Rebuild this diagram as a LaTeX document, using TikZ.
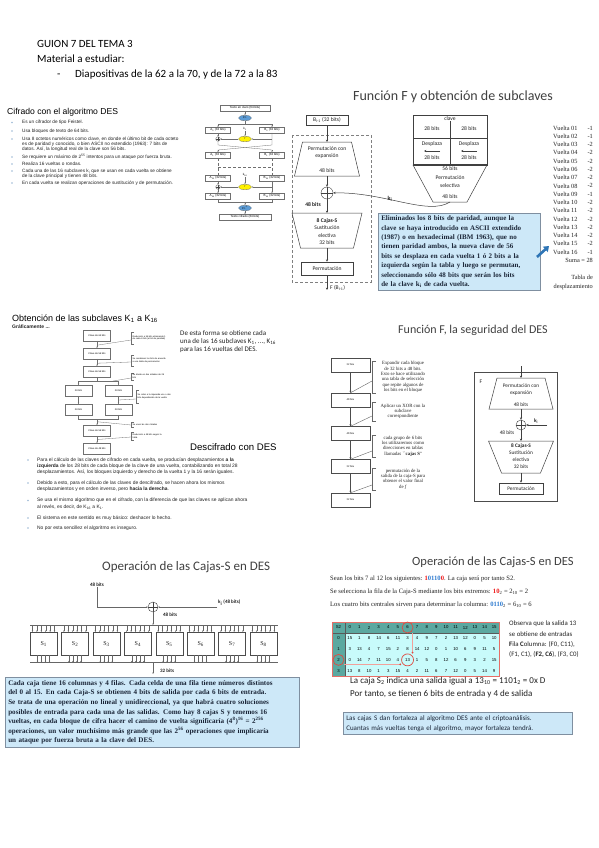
\documentclass[tikz,border=0pt]{standalone}
\usepackage{fontspec}
\usepackage{xcolor}
\usepackage{tikz}
\usetikzlibrary{arrows.meta,shapes.geometric,positioning,calc}
\newfontfamily\arialf{Liberation Sans}
\newfontfamily\calif{Carlito}
\newfontfamily\serf{Liberation Serif}
\definecolor{TitleGray}{HTML}{404040}
\definecolor{TextColor}{HTML}{222222}
\definecolor{NoteFill}{HTML}{CDE8F8}
\definecolor{NoteBorder}{HTML}{7F8FA0}
\definecolor{NoteText}{HTML}{1B2638}
\definecolor{BulletBlue}{HTML}{9DB9D6}
\definecolor{PIBlue}{HTML}{5B9BD5}
\definecolor{BoxGray}{HTML}{6F6F6F}
\definecolor{ArrowBlue}{HTML}{2E75B6}
\definecolor{HeadTeal}{HTML}{5BA8A0}
\definecolor{CellCyan}{HTML}{C8FBFB}
\definecolor{MarkRed}{HTML}{E04A40}
\definecolor{BitRed}{HTML}{F01818}
\definecolor{BitBlue}{HTML}{2E7BD0}
\definecolor{LinePink}{HTML}{F2A09A}
\newcommand{\fsz}[2]{\fontsize{#1}{#2}\selectfont}
\newcommand{\bdot}[2]{\fill[BulletBlue] (#1,#2) circle (0.8);}
% trapezoid: name, cx, ytop, ybot, half top width, half bottom width
\newcommand{\trap}[6]{%
	\draw[trapline] (#2-#5,#3) -- (#2+#5,#3) -- (#2+#6,#4) -- (#2-#6,#4) -- cycle;
	\coordinate (#1N) at (#2,#3);
	\coordinate (#1S) at (#2,#4);
}
% bracket note of the subkey chart: name, x, ytop, ybot, text
\newcommand{\snote}[5]{%
	\draw[sline] (#2+3,#3) -- (#2,#3) -- (#2,#4) -- (#2+3,#4);
	\node[sann, text width=34] (#1) at (#2+1,{(#3+#4)/2}) {#5};
}
% bracket note of the F chart: name, x, ytop, ybot, text
\newcommand{\tnote}[5]{%
	\draw[tline] (#2+4,#3) -- (#2,#3) -- (#2,#4) -- (#2+4,#4);
	\node[tann] (#1) at (#2+31,{(#3+#4)/2}) {#5};
}
\tikzset{
	ttl/.style={anchor=west, inner sep=0, text=TitleGray, font=\calif\fsz{13}{15}},
	attl/.style={anchor=west, inner sep=0, text=black, font=\arialf\fsz{8.6}{10}},
	btxt/.style={anchor=west, inner sep=0, text=TextColor, font=\arialf\fsz{4.7}{5.6}},
	note/.style={draw=NoteBorder, fill=NoteFill, line width=0.6pt, align=left, inner sep=3pt, text=NoteText},
	fbox/.style={draw=BoxGray, line width=0.3pt, inner sep=0.4pt, minimum height=5.5, font=\arialf\fsz{3}{3.4}},
	fell/.style={ellipse, draw=BoxGray, line width=0.3pt, inner sep=0, minimum width=13, minimum height=5.5, font=\arialf\fsz{2.6}{3}},
	fline/.style={draw=BoxGray, line width=0.3pt},
	farr/.style={fline, -{Stealth[length=1.5pt,width=1.3pt]}},
	xorc/.style={circle, draw=black!75, line width=0.4pt, inner sep=0, path picture={\draw[black!75, line width=0.4pt] (path picture bounding box.north) -- (path picture bounding box.south) (path picture bounding box.west) -- (path picture bounding box.east);}},
	gtxt/.style={inner sep=0, align=center, text=TextColor, font=\calif\fsz{5.6}{7.4}},
	gbox/.style={draw=black!75, line width=0.5pt, inner sep=1pt, text=TextColor, font=\calif\fsz{5.6}{6.5}},
	garr/.style={draw=black!75, line width=0.5pt, -{Stealth[length=2.4pt,width=2.2pt]}},
	trapline/.style={draw=black!75, line width=0.5pt, line join=miter},
	vtxt/.style={inner sep=0, text=TextColor, font=\serf\fsz{6.3}{7}},
	sbox/.style={draw=BoxGray, line width=0.3pt, minimum width=27, minimum height=10.5, inner sep=0, font=\arialf\fsz{2.4}{2.8}},
	sline/.style={draw=BoxGray, line width=0.3pt},
	sarr/.style={sline, -{Stealth[length=1.5pt,width=1.3pt]}},
	sann/.style={anchor=west, align=left, inner sep=0.5pt, font=\arialf\fsz{2.2}{2.6}},
	tbox/.style={draw=black!70, line width=0.4pt, minimum width=39, minimum height=14, inner sep=0, font=\serf\fsz{2.8}{3.2}},
	tline/.style={draw=black!60, line width=0.4pt},
	tarr/.style={draw=black!70, line width=0.6pt, -{Stealth[length=2pt,width=2pt]}},
	tann/.style={align=center, inner sep=0, text=TextColor, font=\serf\fsz{4.8}{5.3}},
	cbox/.style={draw=black!70, line width=0.4pt, inner sep=0, text=TextColor, font=\serf\fsz{6}{7}},
	cline/.style={draw=black!60, line width=0.4pt},
	carr/.style={cline, -{Stealth[length=1.6pt,width=1.4pt]}},
	ctxt/.style={inner sep=0, text=TextColor, font=\calif\bfseries\fsz{5}{6}},
	rtxt/.style={anchor=west, inner sep=0, text=TextColor, font=\serf\fsz{6.6}{8}},
	tcell/.style={inner sep=0, text=black, font=\arialf\fsz{4.3}{5}},
	redring/.style={circle, draw=MarkRed, line width=0.7pt, inner sep=0},
}
\begin{document}
\begin{tikzpicture}[x=1pt,y=-1pt]
	\useasboundingbox (0,0) rectangle (599,848);
	\fill[white] (0,0) rectangle (599,848);

	% Header
	\node[anchor=base west, inner sep=0, font=\calif\fsz{11}{13}] (hdA) at (37,48) {GUION 7 DEL TEMA 3};
	\node[anchor=base west, inner sep=0, font=\calif\fsz{11}{13}] (hdB) at (37,63) {Material a estudiar:};
	\node[anchor=base west, inner sep=0, font=\calif\fsz{11}{13}] (hdDash) at (57,78) {-};
	\node[anchor=base west, inner sep=0, font=\calif\fsz{11}{13}] (hdC) at (75,78) {Diapositivas de la 62 a la 70, y de la 72 a la 83};

	% Cifrado con el algoritmo DES
	\node[attl] (cfTitle) at (7,112) {Cifrado con el algoritmo DES};
	\bdot{12}{122.5}\node[btxt] (cb1) at (22,122.5) {Es un cifrador de tipo Feistel.};
	\bdot{12}{131}\node[btxt] (cb2) at (22,131) {Usa bloques de texto de 64 bits.};
	\bdot{12}{139}\node[btxt] (cb3a) at (22,139) {Usa 8 octetos numéricos como clave, en donde el último bit de cada octeto};
	\node[btxt] (cb3b) at (22,144) {es de paridad y conocido, o bien ASCII no  extendido (1963): 7 bits de};
	\node[btxt] (cb3c) at (22,149) {datos. Así,  la longitud real de la clave son 56 bits.};
	\bdot{12}{157}\node[btxt] (cb4) at (22,157) {Se requiere un máximo de 2\textsuperscript{55} intentos para un ataque por fuerza bruta.};
	\bdot{12}{164}\node[btxt] (cb5) at (22,164) {Realiza 16 vueltas o rondas.};
	\bdot{12}{171}\node[btxt] (cb6a) at (22,171) {Cada una de las 16 subclaves k\textsubscript{i} que se usan en cada vuelta se obtiene};
	\node[btxt] (cb6b) at (22,176) {de la  clave principal y tienen 48 bits.};
	\bdot{12}{183}\node[btxt] (cb7) at (22,183) {En cada vuelta se realizan operaciones de sustitución y de permutación.};

	% Feistel scheme
	\node[fbox, minimum width=50] (fTxt) at (245,108) {Texto en claro (64 bits)};
	\node[fell, fill=PIBlue] (fPI) at (245,118) {P.I.};
	\coordinate (fSp) at (245,124);
	\node[fbox, minimum width=25] (fA0) at (218,130) {A\textsubscript{0} (32 bits)};
	\node[fbox, minimum width=25] (fB0) at (272,130) {B\textsubscript{0} (32 bits)};
	\node[inner sep=0, font=\arialf\fsz{3}{3.4}] (fK1) at (245,129) {k\textsubscript{1}};
	\node[fell, fill=yellow] (fF1) at (245,139) {f};
	\node[xorc, minimum size=4.5, draw=BoxGray] (fX1) at (218,139) {};
	\coordinate (fcL) at (218,145);
	\coordinate (fcR) at (272,145);
	\coordinate (fdL) at (218,150);
	\coordinate (fdR) at (272,150);
	\node[fbox, minimum width=25] (fA1) at (218,155) {A\textsubscript{1} (32 bits)};
	\node[fbox, minimum width=25] (fB1) at (272,155) {B\textsubscript{1} (32 bits)};
	\coordinate (fDsL) at (218,167);
	\coordinate (fDsR) at (272,167);
	\node[fbox, minimum width=25] (fA15) at (218,178) {A\textsubscript{15} (32 bits)};
	\node[fbox, minimum width=25] (fB15) at (272,178) {B\textsubscript{15} (32 bits)};
	\node[inner sep=0, font=\arialf\fsz{3}{3.4}] (fK16) at (245,175) {k\textsubscript{16}};
	\node[fell, fill=yellow] (fF16) at (245,187) {f};
	\node[xorc, minimum size=4.5, draw=BoxGray] (fX16) at (218,187) {};
	\node[fbox, minimum width=25] (fA16) at (218,196) {A\textsubscript{16} (32 bits)};
	\node[fbox, minimum width=25] (fB16) at (272,196) {B\textsubscript{16} (32 bits)};
	\coordinate (fJn) at (245,202);
	\node[fell, fill=PIBlue] (fPI2) at (245,208) {P.I.\textsuperscript{-1}};
	\node[fbox, minimum width=52] (fTxt2) at (245,217) {Texto cifrado (64 bits)};
	\draw[farr] (fTxt) -- (fPI);
	\draw[fline] (fPI) -- (fSp);
	\draw[farr] (fSp) -| (fA0);
	\draw[farr] (fSp) -| (fB0);
	\draw[farr] (fK1) -- (fF1);
	\draw[farr] (fA0) -- (fX1);
	\draw[farr] (fB0.south |- fF1) -- (fF1);
	\draw[farr] (fF1) -- (fX1);
	\draw[fline] (fX1) -- (fcL) -- (fdR);
	\draw[farr] (fdR) -- (fB1);
	\draw[fline] (fB0) -- (fcR) -- (fdL);
	\draw[farr] (fdL) -- (fA1);
	\draw[fline, densely dashed] (fA1) -- (fA15);
	\draw[fline, densely dashed] (fB1) -- (fB15);
	\draw[fline, densely dashed] (fDsL) -- (fDsR);
	\draw[farr] (fK16) -- (fF16);
	\draw[farr] (fA15) -- (fX16);
	\draw[farr] (fX16) -- (fA16);
	\draw[farr] (fB15) -- (fB16);
	\draw[farr] (fB15.south |- fF16) -- (fF16);
	\draw[farr] (fF16) -- (fX16);
	\draw[fline] (fA16) |- (fJn);
	\draw[fline] (fB16) |- (fJn);
	\draw[farr] (fJn) -- (fPI2);
	\draw[farr] (fPI2) -- (fTxt2);

	% Funcion F y obtencion de subclaves
	\node[ttl, font=\calif\fsz{14}{16}] (gTitle) at (353,97) {Función F y obtención de subclaves};
	\draw[densely dashed, gray, line width=0.3pt] (292,135) rectangle (371,282);
	\node[gbox, minimum width=42, minimum height=10] (gBin) at (327,120) {B\textsubscript{i-1} (32 bits)};
	\trap{gExp}{327}{142}{176}{24.5}{32.5}
	\node[gtxt] (gExpT) at (327,152.5) {Permutación con\\expansión};
	\node[gtxt] (gExpB) at (327,171) {48 bits};
	\node[xorc, minimum size=12] (gX) at (327,193) {};
	\node[gtxt, font=\calif\bfseries\fsz{5.6}{6.5}] (g48) at (313,205) {48 bits};
	\trap{gSbox}{327}{213}{248}{35}{26.5}
	\node[gtxt] (gSboxT) at (327,231.5) {\textbf{8 Cajas-S}\\Sustitución\\electiva\\32 bits};
	\node[gbox, minimum width=52, minimum height=13] (gPerm) at (327,268.5) {Permutación};
	\coordinate (gOut) at (327,290);
	\node[gtxt, anchor=west] (gOutL) at (330,288) {F (B\textsubscript{i-1})};
	\draw[garr] (gBin) -- (gExpN);
	\draw[garr] (gExpS) -- (gX);
	\draw[garr] (gX) -- (gSboxN);
	\draw[garr] (gSboxS) -- (gPerm);
	\draw[garr] (gPerm) -- (gOut);

	% key schedule
	\draw[black!75, line width=0.5pt] (413,115) rectangle (487,165);
	\draw[black!75, line width=0.5pt] (413,138) -- (487,138);
	\draw[black!75, line width=0.5pt] (450,115) -- (450,165);
	\node[gtxt, fill=white, inner sep=0.5pt] (kClave) at (450,118.5) {clave};
	\node[gtxt] (kL1) at (432,129) {28 bits};
	\node[gtxt] (kR1) at (469,129) {28 bits};
	\node[gtxt] (kLd) at (432,144.5) {Desplaza};
	\node[gtxt] (kRd) at (469,144.5) {Desplaza};
	\coordinate (kLa1) at (440,151);
	\coordinate (kLa2) at (424,151);
	\coordinate (kRa1) at (477,151);
	\coordinate (kRa2) at (461,151);
	\draw[garr, line width=0.4pt] (kLa1) -- (kLa2);
	\draw[garr, line width=0.4pt] (kRa1) -- (kRa2);
	\node[gtxt] (kL2) at (432,158) {28 bits};
	\node[gtxt] (kR2) at (469,158) {28 bits};
	\trap{kPerm}{450}{165}{202}{37}{17}
	\draw[black!75, line width=1.3pt] (413,165) -- (487,165);
	\node[gtxt] (k56) at (450,168.5) {56 bits};
	\node[gtxt] (kPermT) at (450,181.5) {Permutación\\selectiva};
	\node[gtxt] (k48) at (450,197) {48 bits};
	\draw[garr] (kPermS) .. controls (428,216) and (385,192) .. (gX);
	\node[gtxt, font=\calif\bfseries\fsz{6}{7}] (kKi) at (390,199) {k\textsubscript{i}};
	\node[note, text width=156, anchor=north west, font=\serf\bfseries\fsz{7}{9.4}] (kNote) at (378,212.5) {Eliminados los 8 bits de paridad, aunque la\\clave se haya introducido en ASCII extendido\\(1987) o en hexadecimal (IBM 1963), que no\\tienen paridad ambos, la nueva clave de 56\\bits se desplaza en cada vuelta 1 ó 2 bits a la\\izquierda según la tabla y luego se permutan,\\seleccionando sólo 48 bits que serán los bits\\de la clave k\textsubscript{i} de cada vuelta.};
	\coordinate (kArrS) at (537,257);
	\coordinate (kArrE) at (549,246);
	\draw[ArrowBlue, line width=2.6pt, -{Triangle[length=5pt,width=7pt]}] (kArrS) -- (kArrE);

	% table of shifts
	\foreach \vn/\vd [count=\k from 0] in {01/-1,02/-1,03/-2,04/-2,05/-2,06/-2,07/-2,08/-2,09/-1,10/-2,11/-2,12/-2,13/-2,14/-2,15/-2,16/-1} {
		\node[vtxt, anchor=west] (vw\k) at (553,128+8.27*\k) {Vuelta \vn};
		\node[vtxt, anchor=east] (vd\k) at (593,128+8.27*\k) {\vd};
	}
	\node[vtxt, anchor=east] (vSum) at (593,260) {Suma = 28};
	\node[vtxt, anchor=east] (vCap1) at (593,277) {Tabla de};
	\node[vtxt, anchor=east] (vCap2) at (593,287) {desplazamiento};

	% Obtencion de las subclaves
	\node[attl, font=\arialf\fsz{9}{10}] (skTitle) at (12,319) {Obtención de las subclaves K\textsubscript{1} a K\textsubscript{16}};
	\node[anchor=west, inner sep=0, text=TextColor, font=\arialf\bfseries\fsz{5}{6}] (skSub) at (12,326.5) {Gráficamente ...};
	\node[sbox] (sA) at (97,335.5) {Clave de 64 bits};
	\node[sbox] (sB) at (97,353.5) {Clave de 56 bits};
	\node[sbox] (sC) at (97,371.5) {Clave de 56 bits};
	\node[sbox] (sD) at (78.5,390.5) {28 bits};
	\node[sbox] (sE) at (118.5,390.5) {28 bits};
	\node[sbox] (sD2) at (78.5,409.5) {28 bits};
	\node[sbox] (sE2) at (118.5,409.5) {28 bits};
	\node[sbox] (sF) at (97,430.5) {Clave de 56 bits};
	\node[sbox] (sG) at (97,448.5) {Clave de 48 bits};
	\coordinate (sSpl) at (97,381);
	\coordinate (sJn) at (97,419.5);
	\draw[sarr] (sA) -- (sB);
	\draw[sarr] (sB) -- (sC);
	\draw[sline] (sC) -- (sSpl);
	\draw[sarr] (sSpl) -| (sD);
	\draw[sarr] (sSpl) -| (sE);
	\draw[sarr] (sD) -- (sD2);
	\draw[sarr] (sE) -- (sE2);
	\draw[sline] (sD2) |- (sJn);
	\draw[sline] (sE2) |- (sJn);
	\draw[sarr] (sJn) -- (sF);
	\draw[sarr] (sF) -- (sG);
	\snote{sN1}{131}{332}{344}{Reducción a 56 bits eliminando 1 de cada 8 bits (el bit de paridad)}
	\snote{sN2}{131}{355}{366}{Se reordenan los bits de acuerdo a una tabla de permutación}
	\snote{sN3}{131}{373}{380}{Se divide en dos mitades de 28 bits}
	\snote{sN4}{136}{390}{403}{Se rotan a la izquierda uno o dos bits dependiendo de la vuelta}
	\snote{sN5}{131}{422}{427}{Se unen las dos mitades}
	\snote{sN6}{131}{432}{440}{Reducción a 48 bits según la tabla}
	\draw[sline] (131,340) -- ($(sA.south)!0.6!(sB.north)$);
	\draw[sline] (131,362) -- ($(sB.south)!0.6!(sC.north)$);
	\draw[sline] (131,378) -- ($(sSpl)+(16,0)$);
	\draw[sline] (136,399) -- ($(sE.south)!0.5!(sE2.north)$);
	\draw[sline] (131,425) -- ($(sJn)!0.4!(sF.north)$);
	\draw[sline] (131,437) -- ($(sF.south)!0.5!(sG.north)$);
	\node[anchor=north west, align=left, inner sep=0, text=TextColor, font=\calif\fsz{7}{8}] (skNote) at (180,330) {De esta forma se  obtiene cada\\una  de las 16 subclaves K\textsubscript{1}, ..., K\textsubscript{16}\\para las  16 vueltas del DES.};

	% Descifrado con DES
	\node[attl, font=\arialf\fsz{9.6}{11}] (dTitle) at (190,447) {Descifrado con DES};
	\bdot{28}{460}\node[btxt, font=\arialf\fsz{4.9}{5.8}] (db1a) at (37,460) {Para el cálculo de las claves de cifrado en cada vuelta, se  producían desplazamientos \textbf{a la}};
	\node[btxt, font=\arialf\fsz{4.9}{5.8}] (db1b) at (37,466) {\textbf{izquierda} de los 28 bits de  cada bloque de la clave de una vuelta, contabilizando en total  28};
	\node[btxt, font=\arialf\fsz{4.9}{5.8}] (db1c) at (37,472) {desplazamientos. Así, los bloques izquierdo y derecho de la vuelta 1 y la 16 serán iguales.};
	\bdot{28}{483}\node[btxt, font=\arialf\fsz{4.9}{5.8}] (db2a) at (37,483) {Debido a esto, para el cálculo de las claves de descifrado, se  hacen ahora los mismos};
	\node[btxt, font=\arialf\fsz{4.9}{5.8}] (db2b) at (37,489.5) {desplazamientos y en orden inverso, pero \textbf{hacia la derecha}.};
	\bdot{28}{500.5}\node[btxt, font=\arialf\fsz{4.9}{5.8}] (db3a) at (37,500.5) {Se usa el mismo algoritmo que en el cifrado, con la diferencia de que las claves se aplican ahora};
	\node[btxt, font=\arialf\fsz{4.9}{5.8}] (db3b) at (37,507) {al revés, es decir, de K\textsubscript{16} a K\textsubscript{1}.};
	\bdot{28}{518}\node[btxt, font=\arialf\fsz{4.9}{5.8}] (db4) at (37,518) {El sistema en este sentido es muy básico: deshacer lo hecho.};
	\bdot{28}{528}\node[btxt, font=\arialf\fsz{4.9}{5.8}] (db5) at (37,528) {No por esta sencillez el algoritmo es inseguro.};

	% Funcion F, la seguridad del DES
	\node[ttl, font=\calif\fsz{12}{14}] (tTitle) at (398,330) {Función F, la seguridad del DES};
	\node[tbox] (tB1) at (350.5,365) {32 bits};
	\node[tbox] (tB2) at (350.5,400) {48 bits};
	\node[tbox] (tB3) at (350.5,433.5) {48 bits};
	\node[tbox] (tB4) at (350.5,466.5) {32 bits};
	\node[tbox] (tB5) at (350.5,500) {32 bits};
	\draw[tarr] (tB1) -- (tB2);
	\draw[tarr] (tB2) -- (tB3);
	\draw[tarr] (tB3) -- (tB4);
	\draw[tarr] (tB4) -- (tB5);
	\tnote{tN1}{372}{361}{393}{Expandir cada bloque\\de 32 bits a 48 bits.\\Esto se hace utilizando\\una tabla de selección\\que repite algunos de\\los bits en el bloque}
	\tnote{tN2}{372}{402}{421}{Aplicar un XOR con la\\subclave\\correspondiente}
	\tnote{tN3}{372}{435}{457}{cada grupo de 6 bits\\los utilizaremos como\\direcciones en tablas\\llamadas ``\textbf{cajas S}''}
	\tnote{tN4}{372}{468}{490}{permutación de la\\salida de la caja-S para\\obtener el valor final\\de \textit{f}}
	\draw[tline] (372,381) -- (tB2.north);
	\draw[tline] (372,416) -- (tB3.north);
	\draw[tline] (372,451) -- (tB4.north);
	\draw[tline] (372,485) -- (tB5.north);

	% F block
	\node[draw=black!70, line width=0.6pt, minimum width=83, minimum height=129, inner sep=0] (hFrame) at (515.5,436.5) {};
	\node[gtxt] (hF) at (481,382) {F};
	\coordinate (hIn) at (521,366);
	\trap{hExp}{521}{378}{409}{24}{32}
	\node[gtxt, font=\calif\fsz{5.3}{7}] (hExpT) at (521,389.5) {Permutación con\\expansión};
	\node[gtxt, font=\calif\fsz{5.3}{7}] (hExpB) at (521,404.5) {48 bits};
	\node[xorc, minimum size=10] (hX) at (521,425) {};
	\coordinate (hKin) at (547,425);
	\node[gtxt, font=\calif\bfseries\fsz{5.3}{7}] (hKi) at (536,421) {k\textsubscript{i}};
	\node[gtxt, font=\calif\fsz{5.3}{7}] (h48) at (507,433) {48 bits};
	\trap{hSbox}{521}{441}{473}{32.5}{19.5}
	\node[gtxt, font=\calif\fsz{5.3}{7}] (hSboxT) at (521,456.5) {\textbf{8 Cajas-S}\\Sustitución\\electiva\\32 bits};
	\node[gbox, line width=0.6pt, minimum width=44, minimum height=11, font=\calif\fsz{5.3}{6}] (hPerm) at (521,488.5) {Permutación};
	\draw[garr] (hIn) -- (hExpN);
	\draw[garr] (hExpS) -- (hX);
	\draw[garr] (hKin) -- (hX);
	\draw[garr] (hX) -- (hSboxN);
	\draw[garr] (hSboxS) -- (hPerm);

	% Operacion de las Cajas-S (diagram)
	\node[ttl, font=\calif\fsz{13}{15}] (cTitle) at (102,567) {Operación de las Cajas-S en DES};
	\node[ctxt] (c48) at (97,585) {48 bits};
	\node[xorc, minimum size=10] (cX) at (153,607) {};
	\coordinate (cCorner) at (97,607);
	\coordinate (cKin) at (217,607);
	\node[ctxt, anchor=west] (cKi) at (218,603) {k\textsubscript{i} (48 bits)};
	\coordinate (cBus) at (153,625);
	\node[ctxt, anchor=west] (c48b) at (163,615) {48 bits};
	\draw[cline] (c48) -- (cCorner);
	\draw[carr] (cCorner) -- (cX);
	\draw[carr] (cKin) -- (cX);
	\draw[carr] (cX) -- (cBus);
	\coordinate (cBusL) at (30,625.5);
	\coordinate (cBusR) at (278,625.5);
	\draw[cline] (cBusL) -- (cBusR);
	\foreach \i in {1,...,8} {
		\pgfmathsetmacro{\sx}{30+(\i-1)*31.4}
		\node[cbox, minimum width=27, minimum height=23, anchor=north west] (cS\i) at (\sx,632) {S\textsubscript{\i}};
		\foreach \j in {0,...,5} {
			\draw[carr] (\sx+2.5+\j*4.4,625.5) -- (\sx+2.5+\j*4.4,632);
		}
		\foreach \j in {0,...,3} {
			\draw[carr] (\sx+7.5+\j*4,655) -- (\sx+7.5+\j*4,662.5);
		}
	}
	\coordinate (cOutL) at (30,662.5);
	\coordinate (cOutR) at (278,662.5);
	\draw[cline] (cOutL) -- (cOutR);
	\coordinate (cOut) at (153,662.5);
	\coordinate (cOutEnd) at (153,674);
	\draw[carr] (cOut) -- (cOutEnd);
	\node[ctxt, anchor=west] (c32) at (160,671) {32 bits};
	\node[note, text width=288, anchor=north west, font=\serf\bfseries\fsz{7.1}{9.6}] (cNote) at (5,677) {Cada caja tiene 16 columnas y 4 filas. Cada celda de una fila tiene números distintos\\del 0 al 15. En cada Caja-S se obtienen 4 bits de salida por cada 6 bits de entrada.\\Se trata de una operación no lineal y unidireccional, ya que habrá cuatro soluciones\\posibles de entrada para cada una de las salidas. Como hay 8 cajas S y tenemos 16\\vueltas, en cada bloque de cifra hacer el camino de vuelta significaría (4\textsuperscript{8})\textsuperscript{16} = 2\textsuperscript{256}\\operaciones, un valor muchísimo más grande que las 2\textsuperscript{56} operaciones que implicaría\\un ataque por fuerza bruta a la clave del DES.};

	% Operacion de las Cajas-S (example S2)
	\node[ttl, font=\calif\fsz{12.5}{14}] (rTitle) at (412,562) {Operación de las Cajas-S en DES};
	\node[rtxt] (rL1) at (330,579) {Sean los bits 7 al 12 los siguientes: \textbf{\textcolor{BitRed}{1}\textcolor{BitBlue}{0110}\textcolor{BitRed}{0}}. La caja será por tanto S2.};
	\node[rtxt] (rL2) at (330,592) {Se selecciona la fila de la Caja-S mediante los bits extremos: \textbf{\textcolor{BitRed}{10}}\textsubscript{2} = 2\textsubscript{10} = 2};
	\node[rtxt] (rL3) at (330,605) {Los cuatro bits centrales sirven para determinar la columna: \textbf{\textcolor{BitBlue}{0110}}\textsubscript{2} = 6\textsubscript{10} = 6};
	\fill[CellCyan] (332,622) rectangle (499,676);
	\fill[HeadTeal] (332,622) rectangle (499,633);
	\fill[HeadTeal] (332,622) rectangle (345,676);
	\draw[black!65, line width=0.5pt] (332,633) -- (499,633);
	\draw[black!65, line width=0.5pt] (345,622) -- (345,676);
	\draw[MarkRed!80, line width=0.8pt] (332,622) rectangle (499,676);
	\node[tcell] (tS2) at (338.5,627.5) {S2};
	\foreach \c in {0,...,15} {
		\node[tcell] (th\c) at (345+9.625*\c+4.81,627.5) {\c};
	}
	\foreach \r/\vals in {0/{15,1,8,14,6,11,3,4,9,7,2,13,12,0,5,10},1/{3,13,4,7,15,2,8,14,12,0,1,10,6,9,11,5},2/{0,14,7,11,10,4,13,1,5,8,12,6,9,3,2,15},3/{13,8,10,1,3,15,4,2,11,6,7,12,0,5,14,9}} {
		\node[tcell] (tr\r) at (338.5,633+10.75*\r+5.375) {\r};
		\foreach \v [count=\c from 0] in \vals {
			\node[tcell] (tc\r-\c) at (345+9.625*\c+4.81,633+10.75*\r+5.375) {\v};
		}
	}
	\node[redring, minimum size=11] (rc6) at (th6) {};
	\node[redring, minimum size=11] (rc2) at (tr2) {};
	\node[redring, minimum size=12] (rc13) at (tc2-6) {};
	\draw[LinePink, line width=0.6pt, -{Circle[length=1.8pt,color=MarkRed]}] ([xshift=5pt]rc6.south) -- ([xshift=5pt]rc13.north);
	\draw[LinePink, line width=0.6pt, -{Circle[length=1.8pt,color=MarkRed]}] ([yshift=-4.5pt]rc2.east) -- ([yshift=-4.5pt]rc13.west);
	\node[anchor=north west, align=left, inner sep=0, text=TextColor, font=\calif\fsz{6.8}{10.3}] (rObs) at (509,621) {Observa que la salida 13\\se obtiene de entradas\\\textbf{F}ila \textbf{C}olumna: (F0, C11),\\(F1, C1), (\textbf{F2, C6}), (F3, C0)};
	\node[anchor=west, inner sep=0, text=TextColor, font=\calif\fsz{9}{11}] (rRes1) at (350,681) {La caja S\textsubscript{2} indica una salida igual a 13\textsubscript{10} = 1101\textsubscript{2} = 0x D};
	\node[anchor=west, inner sep=0, text=TextColor, font=\calif\fsz{9}{11}] (rRes2) at (350,694) {Por tanto, se tienen 6 bits de entrada y 4 de salida};
	\node[note, text width=223, anchor=north west, font=\calif\fsz{7}{10}] (rNote) at (343,712) {Las cajas S dan fortaleza al algoritmo DES ante el criptoanálisis.\\Cuantas más vueltas tenga el algoritmo, mayor fortaleza tendrá.};
\end{tikzpicture}
\end{document}
